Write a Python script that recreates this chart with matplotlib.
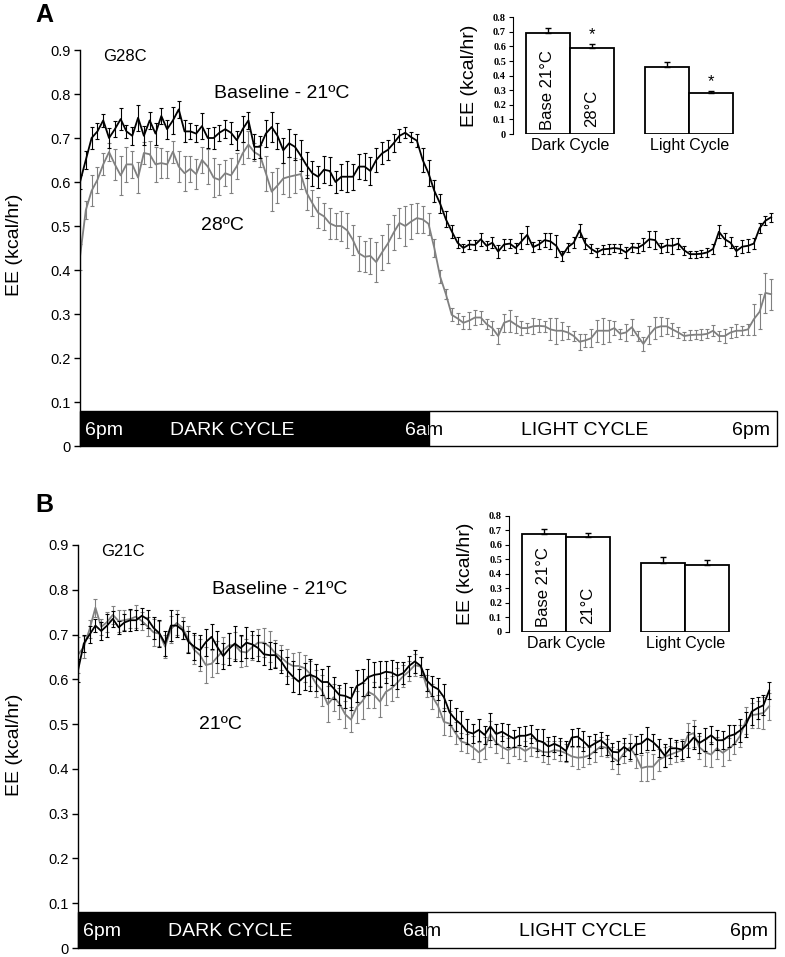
import matplotlib.pyplot as plt
import numpy as np
from matplotlib.patches import Rectangle
from matplotlib.transforms import Bbox, TransformedBbox

plt.rcParams['font.family'] = ['Liberation Sans', 'DejaVu Sans']

W, H = 785, 957
GRAY = '#808080'

# 12-minute bins from 6pm to 6pm (hours since 6pm)
hours = np.arange(120) * 0.2

# ---- panel A (G28C), EE in kcal/hr x 1000 ----
a_base = np.array([
    600, 650, 700, 715, 740, 700, 720, 743, 715, 705, 746, 705,
    740, 710, 750, 720, 740, 765, 715, 715, 710, 727, 700, 700,
    712, 720, 712, 695, 720, 740, 680, 680, 710, 725, 705, 672,
    688, 680, 660, 638, 620, 612, 628, 625, 600, 612, 612, 612,
    635, 635, 625, 650, 665, 673, 688, 705, 712, 702, 694, 650,
    620, 580, 551, 515, 488, 462, 450, 458, 457, 470, 455, 462,
    442, 458, 460, 450, 465, 480, 452, 458, 468, 465, 455, 432,
    452, 462, 490, 460, 448, 440, 447, 448, 450, 448, 440, 452,
    450, 458, 470, 468, 450, 456, 455, 460, 445, 436, 436, 437,
    440, 448, 487, 470, 462, 443, 453, 455, 460, 495, 512, 520]) / 1000
a_base_err = np.array([
    15, 20, 25, 18, 15, 22, 18, 25, 15, 20, 30, 22,
    20, 25, 18, 22, 30, 20, 25, 18, 20, 30, 22, 25,
    18, 20, 25, 22, 30, 20, 28, 25, 30, 35, 30, 28,
    32, 30, 35, 30, 28, 25, 30, 32, 25, 30, 35, 30,
    28, 30, 32, 28, 25, 22, 20, 15, 12, 12, 15, 28,
    30, 25, 22, 18, 15, 12, 10, 10, 12, 15, 10, 12,
    15, 12, 10, 12, 18, 20, 12, 10, 15, 18, 25, 12,
    10, 12, 15, 12, 10, 10, 10, 12, 10, 10, 12, 10,
    12, 15, 18, 20, 12, 15, 18, 12, 10, 8, 8, 8,
    10, 12, 15, 15, 12, 12, 15, 15, 12, 12, 10, 10]) / 1000
a_28 = np.array([
    430, 536, 580, 605, 640, 668, 640, 615, 640, 640, 610, 666,
    663, 640, 643, 640, 669, 635, 620, 630, 618, 650, 635, 610,
    605, 620, 615, 636, 665, 685, 668, 660, 620, 578, 592, 608,
    612, 615, 618, 576, 552, 530, 522, 506, 500, 500, 490, 468,
    438, 430, 432, 418, 440, 460, 485, 507, 500, 510, 518, 515,
    505, 450, 385, 345, 298, 290, 280, 285, 292, 292, 277, 268,
    250, 280, 285, 276, 268, 268, 272, 273, 272, 265, 262, 262,
    258, 250, 237, 240, 245, 262, 262, 262, 268, 255, 258, 270,
    250, 232, 252, 268, 272, 272, 265, 258, 250, 252, 253, 253,
    255, 262, 250, 250, 258, 262, 262, 265, 288, 305, 348, 345]) / 1000
a_28_err = np.array([
    30, 20, 35, 30, 25, 20, 35, 45, 40, 30, 35, 25,
    30, 40, 35, 30, 25, 35, 40, 30, 35, 30, 40, 45,
    35, 30, 40, 30, 25, 30, 20, 25, 40, 45, 40, 35,
    45, 40, 35, 40, 30, 35, 30, 35, 30, 35, 40, 35,
    40, 35, 40, 45, 40, 45, 40, 35, 45, 40, 35, 30,
    25, 20, 15, 12, 15, 12, 15, 20, 18, 15, 12, 15,
    18, 20, 25, 20, 15, 12, 18, 15, 12, 25, 30, 20,
    15, 12, 18, 15, 20, 25, 30, 25, 15, 12, 20, 18,
    12, 15, 20, 25, 22, 18, 15, 12, 10, 12, 10, 12,
    10, 12, 12, 15, 12, 15, 10, 12, 35, 40, 45, 35]) / 1000

# ---- panel B (G21C) ----
b_base = np.array([
    620, 680, 700, 720, 708, 720, 735, 716, 727, 732, 732, 742,
    734, 715, 703, 680, 720, 720, 710, 684, 673, 665, 683, 695,
    672, 652, 668, 680, 670, 682, 678, 670, 656, 654, 654, 640,
    620, 606, 595, 606, 610, 605, 594, 594, 580, 565, 563, 557,
    585, 592, 605, 610, 612, 617, 615, 608, 614, 630, 640, 630,
    598, 585, 578, 560, 526, 510, 499, 483, 479, 487, 476, 495,
    478, 483, 475, 468, 474, 474, 478, 464, 460, 450, 456, 450,
    440, 470, 472, 462, 449, 457, 464, 453, 438, 437, 449, 440,
    454, 457, 468, 460, 447, 430, 446, 446, 443, 455, 470, 458,
    466, 475, 464, 464, 473, 477, 486, 499, 528, 536, 542, 575]) / 1000
b_base_err = np.array([
    25, 20, 18, 15, 20, 25, 18, 15, 20, 25, 22, 18,
    20, 25, 30, 28, 35, 25, 20, 25, 30, 35, 30, 28,
    35, 30, 35, 40, 30, 35, 30, 28, 25, 30, 28, 25,
    30, 35, 28, 30, 35, 30, 28, 35, 25, 22, 28, 25,
    35, 30, 40, 28, 30, 25, 28, 30, 25, 22, 25, 20,
    25, 22, 25, 30, 28, 25, 30, 28, 22, 25, 20, 30,
    22, 20, 25, 18, 20, 22, 20, 25, 28, 22, 18, 20,
    22, 18, 20, 22, 25, 20, 18, 22, 20, 25, 20, 18,
    20, 22, 25, 18, 20, 25, 22, 18, 20, 28, 25, 22,
    25, 20, 22, 20, 25, 22, 25, 28, 30, 25, 22, 20]) / 1000
b_21 = np.array([
    655, 672, 712, 760, 717, 728, 744, 730, 732, 735, 740, 730,
    718, 705, 702, 673, 712, 726, 715, 690, 666, 654, 632, 635,
    650, 665, 676, 676, 662, 660, 672, 682, 682, 673, 658, 649,
    637, 630, 630, 625, 612, 590, 575, 544, 560, 546, 522, 510,
    538, 552, 572, 565, 550, 572, 580, 593, 607, 618, 632, 628,
    585, 562, 540, 505, 501, 480, 461, 457, 448, 437, 446, 478,
    458, 449, 442, 448, 448, 440, 448, 445, 438, 437, 442, 440,
    435, 428, 425, 426, 430, 440, 450, 447, 425, 417, 435, 448,
    430, 402, 405, 405, 420, 427, 432, 437, 442, 475, 480, 448,
    437, 432, 446, 436, 445, 455, 474, 508, 520, 522, 525, 540]) / 1000
b_21_err = np.array([
    40, 25, 20, 20, 18, 22, 20, 25, 22, 20, 25, 20,
    22, 30, 28, 25, 30, 28, 25, 30, 32, 35, 40, 30,
    35, 30, 28, 30, 35, 30, 28, 30, 32, 35, 30, 28,
    30, 28, 32, 30, 28, 30, 35, 40, 30, 35, 30, 28,
    35, 40, 35, 30, 35, 30, 28, 32, 25, 22, 25, 22,
    25, 28, 25, 30, 28, 25, 20, 22, 25, 22, 25, 30,
    22, 25, 28, 20, 25, 22, 20, 18, 22, 25, 20, 22,
    20, 22, 25, 22, 20, 25, 22, 20, 25, 28, 22, 30,
    28, 30, 32, 28, 25, 22, 20, 22, 25, 28, 30, 25,
    30, 28, 25, 30, 25, 22, 25, 30, 28, 30, 35, 30]) / 1000

# ---- inset bar charts (dark / light cycle means) ----
cycles = ['Dark Cycle', 'Light Cycle']
a_bar_base, a_bar_base_err = [0.690, 0.462], [0.035, 0.034]
a_bar_28, a_bar_28_err = [0.587, 0.279], [0.033, 0.018]
b_bar_base, b_bar_base_err = [0.671, 0.476], [0.035, 0.041]
b_bar_21, b_bar_21_err = [0.651, 0.460], [0.032, 0.032]


def px_box(left, right, top, bottom):
    return [left / W, 1 - bottom / H, (right - left) / W, (bottom - top) / H]


fig = plt.figure(figsize=(W / 100, H / 100), dpi=100)


def time_panel(box, base, base_err, temp, temp_err, group, temp_label):
    ax = fig.add_axes(box)
    ax.errorbar(hours, temp, yerr=temp_err, color=GRAY, lw=1.3,
                elinewidth=0.8, capsize=1.6, capthick=0.8, zorder=2)
    ax.errorbar(hours, base, yerr=base_err, color='black', lw=1.3,
                elinewidth=0.8, capsize=1.6, capthick=0.8, zorder=3)
    ax.set_xlim(0, 24)
    ax.set_ylim(0, 0.9)
    for s in ['top', 'right', 'bottom']:
        ax.spines[s].set_visible(False)
    ax.spines['left'].set_linewidth(1)
    ax.set_xticks([])
    ax.set_yticks(np.arange(0, 0.91, 0.1))
    ax.set_yticklabels(['%g' % round(v, 1) for v in np.arange(0, 0.91, 0.1)])
    ax.tick_params(axis='y', direction='out', length=4, width=1, labelsize=10.5, pad=3)

    # light/dark bar
    ax.add_patch(Rectangle((0, 0), 12, 0.08, fc='black', ec='black', lw=1,
                           zorder=4, clip_on=False))
    ax.add_patch(Rectangle((12, 0), 12, 0.08, fc='white', ec='black', lw=1,
                           zorder=4, clip_on=False))
    ty = 0.036
    ax.text(0.17, ty, '6pm', color='white', fontsize=14, va='center', zorder=5)
    ax.text(3.1, ty, 'DARK CYCLE', color='white', fontsize=14, va='center', zorder=5)
    t1 = ax.text(11.18, ty, '6am', color='white', fontsize=14, va='center',
                 zorder=5, clip_on=True)
    t1.set_clip_box(TransformedBbox(Bbox([[0, -0.1], [12, 0.2]]), ax.transData))
    t2 = ax.text(11.18, ty, '6am', color='black', fontsize=14, va='center',
                 zorder=5, clip_on=True)
    t2.set_clip_box(TransformedBbox(Bbox([[12, -0.1], [25, 0.2]]), ax.transData))
    ax.text(15.2, ty, 'LIGHT CYCLE', color='black', fontsize=14, va='center', zorder=5)
    ax.text(23.75, ty, '6pm', color='black', fontsize=14, va='center', ha='right', zorder=5)

    ax.text(0.8, 0.885, group, fontsize=12, va='center')
    ax.text(4.62, 0.80, 'Baseline - 21ºC', fontsize=14, va='center')
    ax.text(4.18, 0.50, temp_label, fontsize=14, va='center')
    return ax


def inset_panel(box, base, base_err, temp, temp_err, temp_label, stars):
    ax = fig.add_axes(box)
    xpos = np.array([2.45, 7.6])
    w = 1.9
    ekw = dict(elinewidth=1, ecolor='black', capsize=2.2, capthick=1)
    ax.bar(xpos - w / 2, base, w, yerr=[[0, 0], base_err], color='white',
           edgecolor='black', lw=1.3, error_kw=ekw)
    ax.bar(xpos + w / 2, temp, w, yerr=[[0, 0], temp_err], color='white',
           edgecolor='black', lw=1.3, error_kw=ekw)
    ax.set_xlim(0, 10)
    ax.set_ylim(0, 0.8)
    for s in ['top', 'right', 'bottom']:
        ax.spines[s].set_visible(False)
    ax.spines['left'].set_linewidth(0.8)
    ax.set_yticks(np.arange(0, 0.81, 0.1))
    ax.set_yticklabels(['%g' % round(v, 1) for v in np.arange(0, 0.81, 0.1)],
                       fontfamily='Liberation Serif', fontweight='bold', fontsize=7.5)
    ax.tick_params(axis='y', direction='out', length=3, width=0.8, pad=2)
    ax.set_xticks(xpos)
    ax.set_xticklabels(cycles, fontsize=11.5)
    ax.tick_params(axis='x', length=0, pad=3)
    ax.set_ylabel('EE (kcal/hr)', fontsize=14)
    ax.yaxis.set_label_coords(-0.15, 0.5)
    ax.text(xpos[0] - w / 2, 0.03, 'Base 21°C', rotation=90, ha='center',
            va='bottom', fontsize=12)
    ax.text(xpos[0] + w / 2, 0.05, temp_label, rotation=90, ha='center',
            va='bottom', fontsize=12)
    if stars:
        for i in range(2):
            ax.text(xpos[i] + w / 2, temp[i] + temp_err[i] + 0.06, '*',
                    ha='center', va='center', fontsize=12)
    return ax


time_panel(px_box(80, 777, 50, 446), a_base, a_base_err, a_28, a_28_err,
           'G28C', '28ºC')
time_panel(px_box(78, 775, 545, 948), b_base, b_base_err, b_21, b_21_err,
           'G21C', '21ºC')

inset_panel(px_box(513, 745, 17.3, 134), a_bar_base, a_bar_base_err,
            a_bar_28, a_bar_28_err, '28°C', True)
inset_panel(px_box(509, 741, 515.7, 631.7), b_bar_base, b_bar_base_err,
            b_bar_21, b_bar_21_err, '21°C', False)

fig.text(15 / W, 1 - 245 / H, 'EE (kcal/hr)', rotation=90, ha='center',
         va='center', fontsize=14)
fig.text(15 / W, 1 - 745 / H, 'EE (kcal/hr)', rotation=90, ha='center',
         va='center', fontsize=14)
fig.text(35 / W, 1 - 15 / H, 'A', fontsize=18, fontweight='bold', va='center')
fig.text(35 / W, 1 - 505 / H, 'B', fontsize=18, fontweight='bold', va='center')

fig.savefig('out.png', dpi=100)
